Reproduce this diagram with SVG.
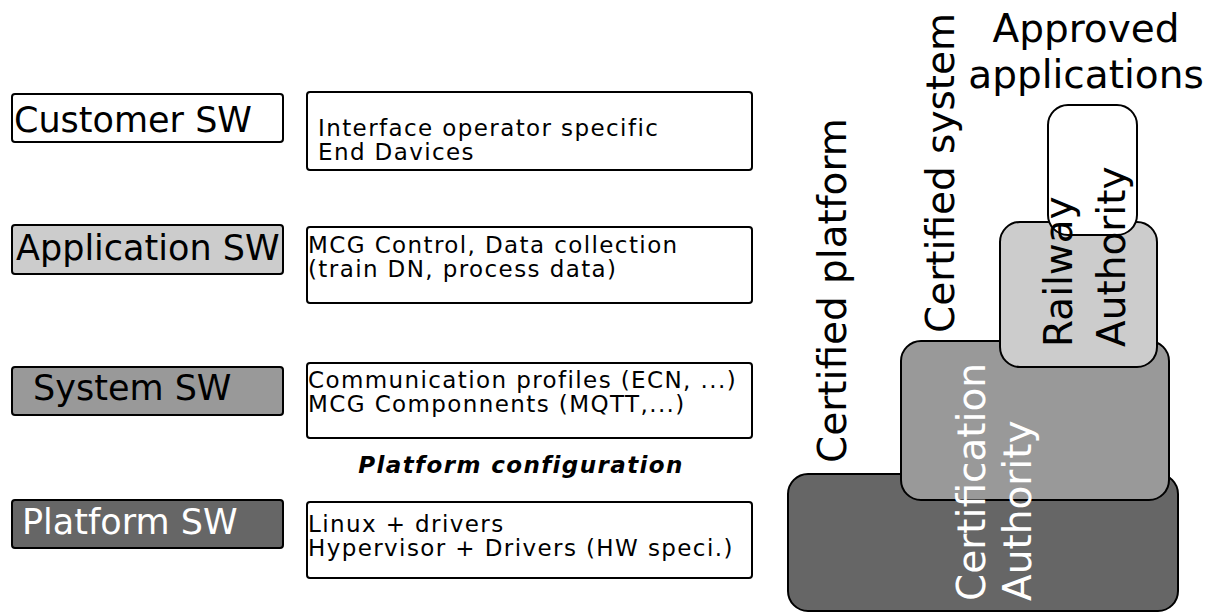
<svg xmlns="http://www.w3.org/2000/svg" width="1212" height="612" viewBox="0 0 1212 612">
  <style>
    .layer { stroke: #000; stroke-width: 2; }
    .box { fill: #fff; stroke: #000; stroke-width: 2; }
    .big { font-family: "DejaVu Sans", Verdana, sans-serif; font-size: 35px; fill: #000; }
    .desc { font-family: "DejaVu Sans", Verdana, sans-serif; font-size: 23px; letter-spacing: 1.4px; fill: #000; }
    .cfg { font-family: "DejaVu Sans", Verdana, sans-serif; font-size: 23px; letter-spacing: 1.4px; font-weight: bold; font-style: italic; fill: #000; }
    .vert { font-family: "DejaVu Sans", Verdana, sans-serif; font-size: 39px; fill: #000; }
    .inv { fill: #fff; }
    .light { fill: #ccc; }
    .mid { fill: #999; }
    .dark { fill: #666; }
    .white { fill: #fff; }
  </style>

  <!-- left column: software layers and what each contains -->
  <g id="customer-sw">
    <rect class="layer white" x="12" y="94" width="271" height="48" rx="3"/>
    <text class="big" x="14" y="132">Customer SW</text>
  </g>
  <g id="customer-desc">
    <rect class="box" x="307" y="92" width="445" height="78" rx="3"/>
    <text class="desc" x="318" y="136">Interface operator specific</text>
    <text class="desc" x="318" y="160">End Davices</text>
  </g>

  <g id="application-sw">
    <rect class="layer light" x="12" y="225" width="271" height="49" rx="3"/>
    <text class="big" x="16" y="260">Application SW</text>
  </g>
  <g id="application-desc">
    <rect class="box" x="307" y="227" width="445" height="76" rx="3"/>
    <text class="desc" x="308" y="253">MCG Control, Data collection</text>
    <text class="desc" x="308" y="277">(train DN, process data)</text>
  </g>

  <g id="system-sw">
    <rect class="layer mid" x="12" y="367" width="271" height="48" rx="3"/>
    <text class="big" x="33" y="400">System SW</text>
  </g>
  <g id="system-desc">
    <rect class="box" x="307" y="363" width="445" height="75" rx="3"/>
    <text class="desc" x="308" y="388">Communication profiles (ECN, ...)</text>
    <text class="desc" x="308" y="412">MCG Componnents (MQTT,...)</text>
  </g>

  <g id="platform-config">
    <text class="cfg" x="521" y="473" text-anchor="middle">Platform configuration</text>
  </g>

  <g id="platform-sw">
    <rect class="layer dark" x="12" y="500" width="271" height="48" rx="3"/>
    <text class="big inv" x="22" y="534">Platform SW</text>
  </g>
  <g id="platform-desc">
    <rect class="box" x="307" y="502" width="445" height="76" rx="3"/>
    <text class="desc" x="308" y="532">Linux + drivers</text>
    <text class="desc" x="308" y="556">Hypervisor + Drivers (HW speci.)</text>
  </g>

  <!-- right column: stacked approval levels -->
  <g id="certification-authority">
    <rect class="layer dark" x="788" y="474" width="390" height="137" rx="20"/>
    <rect class="layer mid" x="901" y="341" width="268" height="159" rx="20"/>
  </g>
  <g id="railway-authority">
    <rect class="layer light" x="1000" y="222" width="157" height="145" rx="20"/>
  </g>
  <g id="approved-applications">
    <rect class="layer white" x="1048" y="105" width="89" height="130" rx="20"/>
    <text class="vert" x="1086" y="42" text-anchor="middle">Approved</text>
    <text class="vert" x="1086" y="88" text-anchor="middle">applications</text>
  </g>
  <g id="certified-platform">
    <text class="vert" transform="translate(846,463) rotate(-90)">Certified platform</text>
  </g>
  <g id="certified-system">
    <text class="vert" transform="translate(954,333) rotate(-90)">Certified system</text>
  </g>
  <g id="railway-label">
    <text class="vert" transform="translate(1072,347) rotate(-90)">Railway</text>
    <text class="vert" transform="translate(1125,347) rotate(-90)">Authority</text>
  </g>
  <g id="certification-label">
    <text class="vert inv" transform="translate(985,601) rotate(-90)">Certification</text>
    <text class="vert inv" transform="translate(1031,601) rotate(-90)">Authority</text>
  </g>

  <g id="connectors"/>
</svg>
